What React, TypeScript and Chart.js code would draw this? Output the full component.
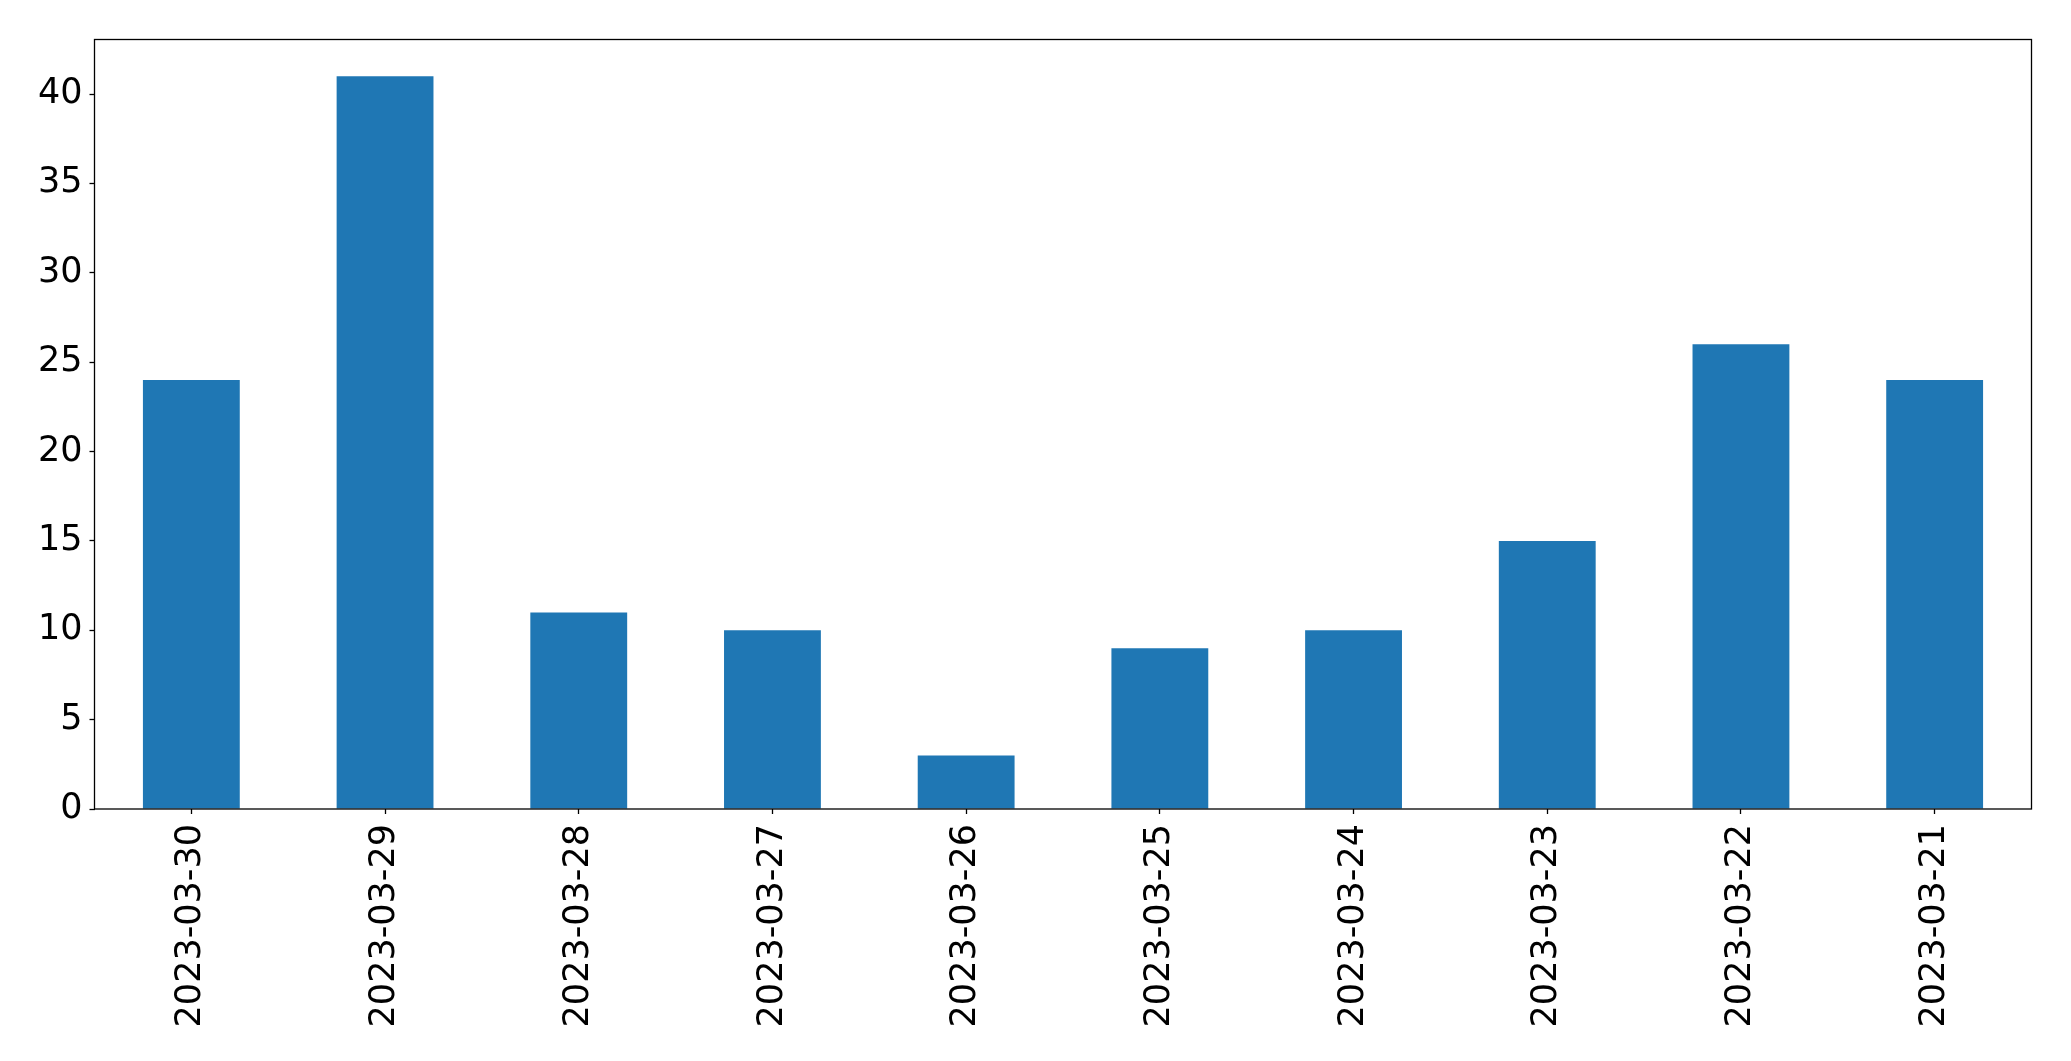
import React, { useEffect, useRef } from "react";
import { Chart, registerables } from "chart.js";

Chart.register(...registerables);

const categories = [
  "2023-03-30", "2023-03-29", "2023-03-28", "2023-03-27", "2023-03-26",
  "2023-03-25", "2023-03-24", "2023-03-23", "2023-03-22", "2023-03-21",
];
const counts = [24, 41, 11, 10, 3, 9, 10, 15, 26, 24];
const yMax = 43.05;
const yStep = 5;

const W = 2071;
const H = 1061;

const frame = {
  id: "frame",
  afterDraw(chart: any) {
    const { ctx, chartArea: a } = chart;
    ctx.save();
    ctx.strokeStyle = "#000";
    ctx.lineWidth = 1.3;
    ctx.strokeRect(a.left, a.top, a.right - a.left, a.bottom - a.top);
    ctx.restore();
  },
};

export default function App() {
  const ref = useRef<HTMLCanvasElement | null>(null);
  useEffect(() => {
    document.body.style.margin = "0";
    const font = { family: "'DejaVu Sans', sans-serif", size: 35 };
    const chart = new Chart(ref.current!, {
      type: "bar",
      data: {
        labels: categories,
        datasets: [
          {
            data: counts,
            backgroundColor: "#1f77b4",
            borderWidth: 0,
            categoryPercentage: 0.5,
            barPercentage: 1,
          },
        ],
      },
      options: {
        responsive: false,
        animation: false,
        devicePixelRatio: 1,
        layout: { padding: { left: 0, top: 39.5, right: 39.5, bottom: 0 } },
        plugins: { legend: { display: false }, tooltip: { enabled: false } },
        scales: {
          x: {
            grid: {
              display: true,
              offset: false,
              drawOnChartArea: false,
              drawTicks: true,
              tickLength: 5,
              tickColor: "#000",
              tickWidth: 1.3,
            },
            border: { display: false },
            ticks: {
              color: "#000",
              font,
              maxRotation: 90,
              minRotation: 90,
              padding: 10,
              autoSkip: false,
            },
            afterFit(scale: any) {
              scale.height = H - 809;
            },
          },
          y: {
            min: 0,
            max: yMax,
            grid: {
              display: true,
              drawOnChartArea: false,
              drawTicks: true,
              tickLength: 5,
              tickColor: "#000",
              tickWidth: 1.3,
            },
            border: { display: false },
            ticks: {
              stepSize: yStep,
              includeBounds: false,
              color: "#000",
              font,
              padding: 7,
            },
            afterFit(scale: any) {
              scale.width = 94.5;
            },
          },
        },
      },
      plugins: [frame],
    });
    return () => chart.destroy();
  }, []);
  return (
    <div style={{ position: "fixed", left: 0, top: 0, width: W, height: H, background: "#fff" }}>
      <canvas ref={ref} width={W} height={H} style={{ width: W, height: H, display: "block" }} />
    </div>
  );
}
